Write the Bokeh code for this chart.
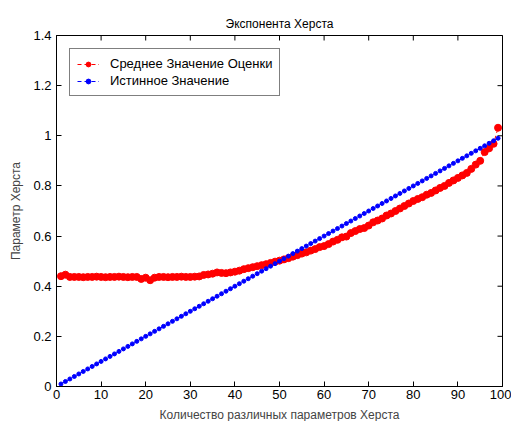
import math
from bokeh.plotting import figure
from bokeh.models import FixedTicker, Range1d, Legend, LegendItem
from bokeh.embed import file_html
from bokeh.resources import INLINE

title_text = "Экспонента Херста"
x_label = "Количество различных параметров Херста"
y_label = "Параметр Херста"
series_mean = "Среднее Значение Оценки"
series_true = "Истинное Значение"

x_vals = list(range(1, 100))

mean_vals = [
    0.440, 0.446, 0.437, 0.437, 0.437, 0.436, 0.437, 0.437, 0.438, 0.437,
    0.436, 0.437, 0.437, 0.438, 0.437, 0.436, 0.437, 0.437, 0.429, 0.434,
    0.424, 0.434, 0.437, 0.437, 0.436, 0.437, 0.437, 0.438, 0.437, 0.437,
    0.438, 0.439, 0.445, 0.447, 0.450, 0.455, 0.453, 0.452, 0.455, 0.458,
    0.462, 0.468, 0.472, 0.476, 0.480, 0.484, 0.488, 0.493, 0.498, 0.502,
    0.507, 0.512, 0.518, 0.524, 0.530, 0.535, 0.542, 0.548, 0.556, 0.560,
    0.568, 0.578, 0.585, 0.595, 0.598, 0.612, 0.620, 0.628, 0.632, 0.642,
    0.655, 0.662, 0.670, 0.682, 0.690, 0.700, 0.710, 0.720, 0.730, 0.740,
    0.748, 0.755, 0.765, 0.772, 0.782, 0.792, 0.800, 0.812, 0.822, 0.832,
    0.842, 0.852, 0.868, 0.885, 0.900, 0.935, 0.950, 0.968, 1.032,
]

true_vals = [
    0.01, 0.02, 0.03, 0.04, 0.05, 0.06, 0.07, 0.08, 0.09, 0.10,
    0.11, 0.12, 0.13, 0.14, 0.15, 0.16, 0.17, 0.18, 0.19, 0.20,
    0.21, 0.22, 0.23, 0.24, 0.25, 0.26, 0.27, 0.28, 0.29, 0.30,
    0.31, 0.32, 0.33, 0.34, 0.35, 0.36, 0.37, 0.38, 0.39, 0.40,
    0.41, 0.42, 0.43, 0.44, 0.45, 0.46, 0.47, 0.48, 0.49, 0.50,
    0.51, 0.52, 0.53, 0.54, 0.55, 0.56, 0.57, 0.58, 0.59, 0.60,
    0.61, 0.62, 0.63, 0.64, 0.65, 0.66, 0.67, 0.68, 0.69, 0.70,
    0.71, 0.72, 0.73, 0.74, 0.75, 0.76, 0.77, 0.78, 0.79, 0.80,
    0.81, 0.82, 0.83, 0.84, 0.85, 0.86, 0.87, 0.88, 0.89, 0.90,
    0.91, 0.92, 0.93, 0.94, 0.95, 0.96, 0.97, 0.98, 0.99,
]

x_ticks = [0, 10, 20, 30, 40, 50, 60, 70, 80, 90, 100]
y_ticks = [0, 0.2, 0.4, 0.6, 0.8, 1.0, 1.2, 1.4]
y_tick_labels = ["0", "0.2", "0.4", "0.6", "0.8", "1", "1.2", "1.4"]

X_MIN, X_MAX = 0, 100
Y_MIN, Y_MAX = 0, 1.4

FONT = "Liberation Sans"

p = figure(
    frame_width=446, frame_height=351,
    x_range=Range1d(X_MIN, X_MAX), y_range=Range1d(Y_MIN, Y_MAX),
    output_backend="svg", toolbar_location=None,
    min_border_left=56, min_border_right=9, min_border_top=35, min_border_bottom=35,
    background_fill_color="white", border_fill_color="white",
)
p.title.text = title_text
p.title.align = "center"
p.title.text_font = FONT
p.title.text_font_size = "12px"
p.title.text_font_style = "normal"
p.title.text_color = "black"
p.title.offset = 0
p.title.standoff = 10

p.xgrid.visible = False
p.ygrid.visible = False
p.outline_line_color = "black"
p.outline_line_width = 1

def style_axis(ax, ticks):
    ax.ticker = FixedTicker(ticks=ticks)
    ax.major_tick_in = 5
    ax.major_tick_out = 0
    ax.minor_tick_line_color = None
    ax.axis_line_color = "black"
    ax.major_tick_line_color = "black"
    ax.major_label_text_font = FONT
    ax.major_label_text_font_size = "13px"
    ax.major_label_text_color = "black"

xa = p.xaxis[0]
style_axis(xa, x_ticks)
xa.major_label_standoff = 3
xa.axis_label = x_label
xa.axis_label_text_font = FONT
xa.axis_label_text_font_size = "12px"
xa.axis_label_text_font_style = "normal"
xa.axis_label_standoff = 6

ya = p.yaxis[0]
style_axis(ya, y_ticks)
ya.major_label_overrides = {t: s for t, s in zip(y_ticks, y_tick_labels)}
ya.major_label_standoff = 5
ya.axis_label = y_label
ya.axis_label_text_font = FONT
ya.axis_label_text_font_size = "12px"
ya.axis_label_text_font_style = "normal"
ya.axis_label_standoff = 7

# inward tick marks on top and right edges (half of each dash is clipped by the frame)
p.scatter(x_ticks, [Y_MAX] * len(x_ticks), marker="dash", angle=math.pi / 2,
          size=10, line_color="black", line_width=1)
p.scatter([X_MAX] * len(y_ticks), y_ticks, marker="dash",
          size=10, line_color="black", line_width=1)

r_line = p.line(x_vals, mean_vals, line_color="red", line_dash="4 3", line_width=1)
r_pts = p.scatter(x_vals, mean_vals, size=7, fill_color="red", line_color="red", marker="circle")
b_line = p.line(x_vals, true_vals, line_color="blue", line_dash="4 3", line_width=1)
b_pts = p.scatter(x_vals, true_vals, size=4, fill_color="blue", line_color="blue", marker="circle")

legend = Legend(items=[
    LegendItem(label=series_mean, renderers=[r_line, r_pts]),
    LegendItem(label=series_true, renderers=[b_line, b_pts]),
])
legend.location = "top_left"
legend.margin = 13
legend.border_line_color = "black"
legend.border_line_width = 1
legend.label_text_font = FONT
legend.label_text_font_size = "13px"
legend.label_text_color = "black"
legend.glyph_width = 22
legend.glyph_height = 12
legend.label_height = 12
legend.spacing = 2
legend.padding = 7
legend.label_standoff = 11
legend.background_fill_color = "white"
legend.background_fill_alpha = 1
p.add_layout(legend, "center")

open("out.html", "w").write(file_html(p, INLINE))
